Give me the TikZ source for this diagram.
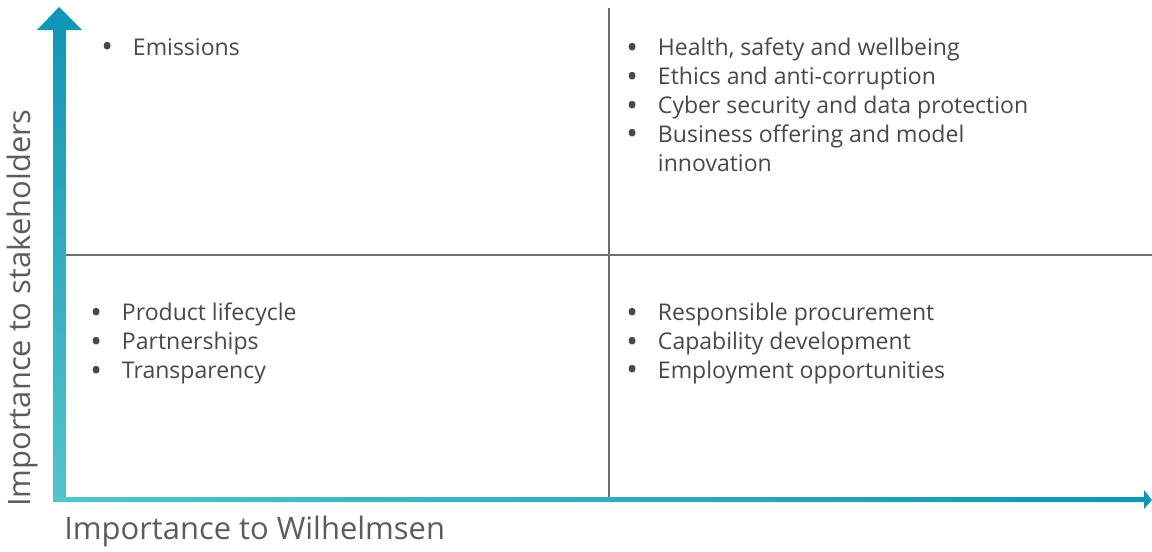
\documentclass[tikz,border=0pt]{standalone}
\usepackage{fontspec}
\setmainfont{Open Sans}
\usepackage{tikz}
\usetikzlibrary{positioning,calc}

\definecolor{axisdark}{RGB}{16,148,180}
\definecolor{axislight}{RGB}{82,196,204}
\definecolor{gridgray}{RGB}{110,110,110}
\definecolor{itemgray}{RGB}{72,72,72}
\definecolor{labelgray}{RGB}{92,92,92}

% bullet list used inside the quadrants
\newcommand{\quadbullet}{\raisebox{-0.2ex}{\scalebox{1.35}{\textbullet}}}
\newcommand{\quadlist}[1]{%
  \begin{list}{\quadbullet}{%
    \setlength{\leftmargin}{18pt}\setlength{\labelwidth}{18pt}%
    \setlength{\labelsep}{0pt}\setlength{\itemsep}{0pt}%
    \setlength{\parsep}{0pt}\setlength{\topsep}{0pt}%
    \setlength{\partopsep}{0pt}\setlength{\itemindent}{0pt}%
    \renewcommand{\makelabel}[1]{##1\hfil}}%
  #1\end{list}}

\tikzset{
  quadrant/.style={anchor=north west, inner sep=0pt, align=left,
    text=itemgray, font=\fontsize{13.1}{16.4}\selectfont},
  axislabel/.style={text=labelgray, font=\fontsize{17.6}{20}\selectfont, inner sep=0pt},
  gridline/.style={gridgray, line width=0.8pt}
}

\begin{document}
\begin{tikzpicture}[x=0.02cm, y=-0.02cm]
  \useasboundingbox (0,0) rectangle (1152,551);

  % corners of the chart
  \coordinate (origin) at (59,500);
  \coordinate (ytip) at (59,7);
  \coordinate (xtip) at (1152,500);
  \coordinate (midtop) at (609,8);
  \coordinate (midbot) at (609,497);
  \coordinate (midleft) at (66,255);
  \coordinate (midright) at (1152,255);

  % quadrant dividers
  \draw[gridline] (midtop) -- (midbot);
  \draw[gridline] (midleft) -- (midright);

  % horizontal axis
  \shade[left color=axislight, right color=axisdark]
    ($(origin)+(-6,-3)$) -- ($(xtip)+(-8,-3)$) -- ($(xtip)+(-8,-10)$) -- (xtip)
    -- ($(xtip)+(-8,9)$) -- ($(xtip)+(-8,2)$) -- ($(origin)+(-6,2)$) -- cycle;
  % vertical axis
  \shade[top color=axisdark, bottom color=axislight]
    ($(origin)+(-6,2)$) -- ($(ytip)+(-6,23)$) -- ($(ytip)+(-22,23)$) -- (ytip)
    -- ($(ytip)+(23,23)$) -- ($(ytip)+(7,23)$) -- ($(origin)+(7,-3)$)
    -- ($(origin)+(-6,-3)$) -- cycle;

  \node[axislabel, rotate=90] (ylab) at (22,308) {Importance to stakeholders};
  \node[axislabel, anchor=west] (xlab) at (64,531) {Importance to Wilhelmsen};

  \node[quadrant] (topleft) at (101,38) {%
    \begin{minipage}{5cm}\quadlist{\item Emissions}\end{minipage}};
  \node[quadrant] (topright) at (626,38) {%
    \begin{minipage}{8.5cm}\raggedright\quadlist{%
      \item Health, safety and wellbeing
      \item Ethics and anti-corruption
      \item Cyber security and data protection
      \item Business offering and model innovation}\end{minipage}};
  \node[quadrant] (botleft) at (90,303) {%
    \begin{minipage}{8cm}\quadlist{%
      \item Product lifecycle
      \item Partnerships
      \item Transparency}\end{minipage}};
  \node[quadrant] (botright) at (626,303) {%
    \begin{minipage}{8.5cm}\quadlist{%
      \item Responsible procurement
      \item Capability development
      \item Employment opportunities}\end{minipage}};
\end{tikzpicture}
\end{document}
